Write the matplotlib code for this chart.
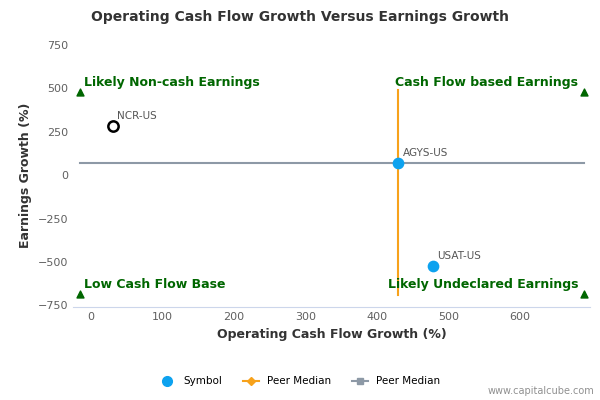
import matplotlib
matplotlib.use("Agg")
import matplotlib.pyplot as plt
from matplotlib.lines import Line2D

symbols = ["NCR-US", "AGYS-US", "USAT-US"]
ocf_growth = [31, 430, 479]
eps_growth = [285, 70, -520]
median_x = 430
median_y = 70
corner_x = [-15, 690, -15, 690]
corner_y = [480, 480, -685, -685]
corner_labels = ["Likely Non-cash Earnings", "Cash Flow based Earnings", "Low Cash Flow Base", "Likely Undeclared Earnings"]

fig = plt.figure(figsize=(6, 4), dpi=100)
ax = fig.add_axes([0.122, 0.232, 0.861, 0.66])
ax.set_xlim(-25, 698)
ax.set_ylim(-760, 760)
ax.set_facecolor("white")
for s in ax.spines.values():
    s.set_visible(False)
ax.spines["bottom"].set_visible(True)
ax.spines["bottom"].set_color("#ccd6eb")
ax.set_xticks([0, 100, 200, 300, 400, 500, 600])
ax.set_yticks([-750, -500, -250, 0, 250, 500, 750])
ax.tick_params(labelsize=8, colors="#606060", length=0)

ax.plot([-15, 690], [median_y, median_y], color="#8d99a6", lw=1.5, zorder=2)
ax.plot([median_x, median_x], [-690, 490], color="#f7a21b", lw=1.5, zorder=2)

ax.scatter([ocf_growth[0]], [eps_growth[0]], s=55, facecolor="white", edgecolor="black", lw=1.8, zorder=4)
ax.scatter(ocf_growth[1:], eps_growth[1:], s=55, color="#0da2ef", zorder=4)
for x, y, l in zip(ocf_growth, eps_growth, symbols):
    ax.annotate(l, (x, y), xytext=(3, 5), textcoords="offset points", fontsize=7.5, color="#555555")

ax.scatter(corner_x, corner_y, marker="^", color="#006600", s=25, zorder=3)
green = "#006600"
ax.text(-10, 535, corner_labels[0], color=green, fontsize=9, fontweight="bold", va="center")
ax.text(682, 535, corner_labels[1], color=green, fontsize=9, fontweight="bold", va="center", ha="right")
ax.text(-10, -630, corner_labels[2], color=green, fontsize=9, fontweight="bold", va="center")
ax.text(682, -630, corner_labels[3], color=green, fontsize=9, fontweight="bold", va="center", ha="right")

ax.set_xlabel("Operating Cash Flow Growth (%)", fontsize=9, fontweight="bold", color="#333333")
ax.set_ylabel("Earnings Growth (%)", fontsize=9, fontweight="bold", color="#333333")
fig.text(0.5, 0.947, "Operating Cash Flow Growth Versus Earnings Growth", ha="center", fontsize=10, fontweight="bold", color="#333333")

handles = [Line2D([], [], marker="o", color="#0da2ef", ls="none", markersize=7),
           Line2D([], [], marker="D", color="#f7a21b", lw=1.5, markersize=4),
           Line2D([], [], marker="s", color="#8d99a6", lw=1.5, markersize=5)]
fig.legend(handles, ["Symbol", "Peer Median", "Peer Median"], loc="center", bbox_to_anchor=(0.5, 0.047),
           ncol=3, frameon=False, fontsize=7.5, handlelength=1.5, columnspacing=2)
fig.text(0.99, 0.015, "www.capitalcube.com", ha="right", fontsize=7, color="#909090")
fig.savefig("out.png")
